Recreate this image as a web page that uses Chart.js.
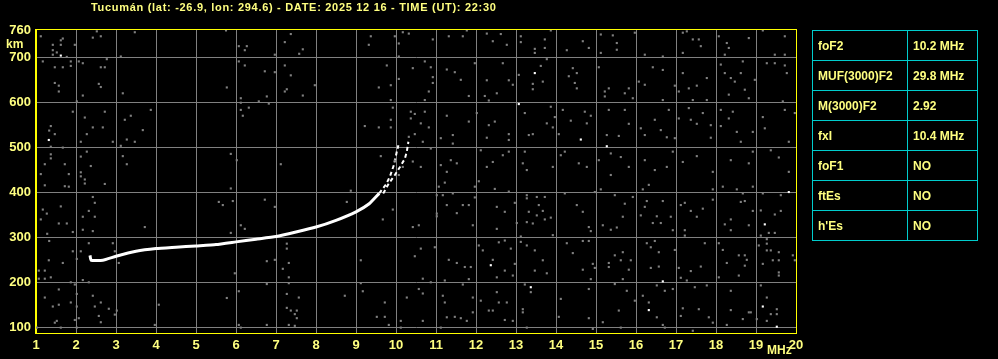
<!DOCTYPE html>
<html>
<head>
<meta charset="utf-8">
<script src="https://cdn.jsdelivr.net/npm/chart.js@4.4.1/dist/chart.umd.min.js"></script>
<style>
  body { margin: 0; background: #000; width: 998px; height: 359px; overflow: hidden; position: relative;
         font-family: "Liberation Sans", Arial, sans-serif; }
  #chart { position: absolute; left: 0; top: 0; }
  .lbl { position: absolute; color: #ffff80; font-weight: bold; white-space: nowrap; }
  #title { left: 91px; top: 1px; font-size: 11px; letter-spacing: 0.7px; }
  #km { left: 6px; top: 37px; font-size: 12px; }
  #mhz { left: 767px; top: 343px; font-size: 12px; }
  #params { position: absolute; left: 812px; top: 30px; border-collapse: collapse; }
  #params td { border: 1px solid #00cccc; height: 29px; padding: 0 0 0 5px; color: #ffff80;
               font-size: 12px; font-weight: bold; }
  #params td:first-child { width: 89px; }
  #params td:last-child { width: 64px; }
</style>
</head>
<body>
<canvas id="chart" width="998" height="359"></canvas>
<div class="lbl" id="title">Tucumán (lat: -26.9, lon: 294.6) - DATE: 2025 12 16 - TIME (UT): 22:30</div>
<div class="lbl" id="km">km</div>
<div class="lbl" id="mhz">MHz</div>
<table id="params"></table>
<script>
// axis ticks
const freqTicks = [1, 2, 3, 4, 5, 6, 7, 8, 9, 10, 11, 12, 13, 14, 15, 16, 17, 18, 19, 20];
const heightTicks = [100, 200, 300, 400, 500, 600, 700, 760];

// scaled parameters table
const paramNames = ['foF2', 'MUF(3000)F2', 'M(3000)F2', 'fxI', 'foF1', 'ftEs', "h'Es"];
const paramValues = ['10.2 MHz', '29.8 MHz', '2.92', '10.4 MHz', 'NO', 'NO', 'NO'];

// F2 trace (MHz, km)
const traceMain = [[2.35, 260], [2.38, 249], [2.67, 249], [3.0, 258], [3.5, 269], [4.0, 275], [4.5, 278],
  [5.0, 281], [5.5, 284], [6.0, 290], [6.5, 296], [7.0, 302], [7.5, 312], [8.0, 323], [8.5, 338],
  [9.0, 357], [9.33, 375], [9.58, 398]];
const traceO = [[9.58, 398], [9.75, 418], [9.85, 436], [9.95, 462], [10.02, 491], [10.06, 505]];
const traceX = [[9.68, 398], [9.82, 420], [9.98, 440], [10.1, 457], [10.22, 475], [10.27, 491], [10.31, 513]];

// bright isolated echoes
const whiteDots = [[1.32, 517], [1.62, 705], [13.47, 666], [13.07, 597], [14.62, 518], [15.27, 503],
  [12.37, 238], [13.37, 189], [16.67, 202], [16.32, 138], [19.22, 329], [19.82, 401], [19.17, 146], [19.52, 101]];

// background noise echoes
const noiseDots = [
  [1.12, 748], [1.42, 729], [1.42, 717], [1.42, 707], [1.52, 712], [1.62, 739], [1.62, 729], [1.67, 743],
  [1.77, 702], [1.87, 692], [1.87, 682], [1.97, 729], [2.07, 692], [2.17, 688], [1.47, 679], [1.67, 679],
  [1.17, 692], [2.62, 679], [2.72, 679], [2.77, 697], [2.57, 642], [2.62, 635], [1.47, 644], [1.57, 638],
  [1.57, 625], [2.17, 616], [3.17, 621], [2.52, 759], [2.42, 745], [2.62, 748], [3.47, 757], [3.12, 703],
  [2.02, 603], [1.92, 580], [2.22, 567], [2.72, 580], [3.37, 571], [3.22, 562], [3.87, 584], [2.42, 545],
  [2.67, 545], [3.67, 539], [1.37, 548], [1.33, 538], [1.47, 530], [1.37, 502], [2.27, 530], [2.12, 513],
  [2.92, 513], [3.27, 518], [3.47, 513], [3.12, 504], [1.67, 500], [1.37, 485], [1.37, 476], [1.22, 463],
  [1.12, 441], [1.72, 463], [1.82, 441], [2.12, 480], [2.27, 491], [2.37, 459], [2.12, 445], [2.12, 436],
  [2.22, 429], [3.17, 481], [3.27, 463], [5.75, 761], [6.07, 726], [6.27, 726], [6.22, 717], [6.97, 707],
  [7.22, 735], [7.37, 753], [7.67, 719], [7.58, 709], [6.07, 692], [6.22, 683], [6.72, 670], [6.97, 668],
  [7.22, 683], [7.37, 661], [7.97, 639], [7.27, 630], [7.22, 625], [6.77, 614], [7.67, 616], [5.77, 634],
  [6.12, 610], [6.12, 600], [6.12, 584], [6.32, 589], [6.57, 603], [6.82, 598], [6.17, 571], [5.87, 486],
  [6.02, 472], [7.12, 463], [9.37, 748], [9.32, 729], [9.97, 748], [10.17, 757], [10.32, 754], [10.07, 732],
  [10.07, 703], [9.77, 683], [10.42, 677], [10.07, 653], [9.87, 639], [9.57, 634], [9.87, 606], [9.92, 589],
  [10.37, 580], [10.37, 565], [10.47, 575], [9.87, 562], [9.87, 545], [9.22, 548], [9.57, 545], [10.32, 524],
  [10.47, 530], [9.62, 481], [9.97, 471], [10.17, 457], [10.42, 469], [10.07, 439],
  [10.92, 741], [11.32, 748], [11.67, 748], [11.77, 761], [12.27, 754], [12.42, 737], [12.62, 753], [12.77, 729],
  [13.12, 748], [13.12, 735], [13.47, 720], [13.47, 711], [13.72, 741], [13.72, 722], [13.87, 761], [14.27, 717],
  [14.67, 737], [14.82, 722], [15.12, 752], [15.12, 711], [15.42, 750], [15.52, 733], [15.52, 718], [15.97, 756],
  [16.22, 707], [16.67, 703], [17.17, 756], [17.27, 759], [17.42, 741], [17.57, 741], [17.62, 726], [17.17, 711],
  [18.07, 748], [18.27, 733], [18.32, 722], [18.22, 707], [18.82, 744], [19.17, 761], [19.72, 748], [19.47, 707],
  [19.72, 707], [10.72, 692], [10.87, 679], [10.92, 657], [10.92, 644], [10.82, 625], [10.72, 606], [11.27, 674],
  [11.47, 668], [11.62, 651], [11.82, 615], [11.97, 688], [12.27, 650], [12.22, 615], [12.32, 605], [12.52, 621],
  [12.67, 688], [12.82, 650], [12.92, 640], [13.07, 662], [13.42, 642], [13.42, 630], [13.67, 647], [13.62, 682],
  [13.77, 697], [14.32, 659], [14.42, 677], [14.52, 666], [14.47, 644], [14.52, 632], [15.07, 679], [15.22, 625],
  [15.32, 632], [15.22, 614], [15.72, 621], [15.82, 632], [15.92, 610], [16.07, 647], [16.22, 640], [16.42, 679],
  [16.67, 673], [16.67, 606], [16.97, 638], [17.07, 625], [17.17, 666], [17.32, 632], [17.42, 606], [17.52, 638],
  [17.77, 655], [17.77, 606], [18.12, 685], [18.22, 666], [18.32, 618], [18.37, 655], [18.47, 647], [18.62, 666],
  [18.67, 692], [18.72, 629], [18.82, 610], [18.97, 651], [19.27, 688], [19.47, 688], [19.72, 683], [19.77, 666],
  [19.67, 603], [10.72, 580], [10.62, 554], [10.82, 545], [10.67, 513], [11.12, 521], [11.27, 571], [11.42, 528],
  [11.82, 558], [12.02, 577], [12.27, 522], [12.32, 550], [12.47, 558], [12.82, 530], [12.82, 517], [13.22, 577],
  [13.32, 528], [13.42, 530], [13.77, 554], [13.87, 591], [13.92, 545], [13.97, 568], [14.07, 530], [14.17, 584],
  [14.37, 560], [14.72, 580], [14.77, 554], [14.87, 571], [15.27, 528], [15.32, 584], [15.57, 526], [15.72, 584],
  [15.82, 553], [16.12, 543], [16.22, 528], [16.47, 562], [16.62, 539], [16.77, 523], [16.82, 584], [16.97, 521],
  [17.07, 565], [17.32, 588], [17.37, 562], [17.52, 553], [17.67, 577], [17.87, 550], [17.87, 522], [18.12, 584],
  [18.12, 548], [18.32, 565], [18.42, 580], [18.52, 535], [18.62, 513], [18.92, 535], [19.17, 568], [19.22, 543],
  [19.72, 584], [19.82, 513], [19.97, 577], [10.62, 457], [10.87, 498], [11.12, 461], [11.42, 509], [11.37, 472],
  [11.52, 465], [11.27, 446], [12.12, 494], [12.27, 457], [12.42, 468], [12.67, 483], [12.82, 491], [13.22, 491],
  [13.17, 465], [13.27, 450], [13.92, 457], [14.12, 483], [14.22, 491], [14.57, 465], [14.77, 457], [15.07, 472],
  [15.37, 487], [15.37, 439], [15.62, 479], [15.82, 457], [16.22, 472], [16.47, 450], [16.77, 457], [16.92, 491],
  [17.17, 468], [17.52, 481], [17.92, 446], [18.37, 472], [18.82, 465], [18.92, 491], [19.37, 494], [19.57, 478],
  [19.82, 446],
  [1.22, 416], [1.72, 414], [1.82, 413], [2.22, 420], [2.72, 419], [2.42, 390], [2.47, 377], [1.62, 369],
  [1.17, 362], [1.27, 353], [1.12, 340], [1.57, 331], [1.77, 331], [1.92, 312], [2.17, 346], [2.32, 359],
  [2.47, 346], [2.42, 314], [2.17, 317], [1.28, 308], [1.33, 292], [2.32, 287], [2.92, 287], [1.92, 269],
  [2.12, 269], [2.97, 269], [1.32, 249], [1.67, 243], [2.02, 252], [3.07, 243], [1.07, 226], [1.22, 226],
  [1.07, 208], [1.22, 208], [1.37, 211], [1.87, 200], [1.97, 195], [2.17, 205], [2.32, 200], [1.57, 184],
  [2.02, 174], [2.42, 170], [1.22, 166], [1.57, 150], [1.42, 146], [1.87, 155], [2.02, 146], [2.47, 146],
  [2.62, 155], [2.82, 141], [3.02, 137], [2.97, 128], [2.57, 125], [2.62, 111], [2.07, 120], [1.97, 116],
  [1.52, 114], [1.47, 110], [1.62, 99], [2.02, 99], [1.02, 99], [3.97, 105], [4.07, 150], [3.72, 323],
  [5.57, 379], [5.67, 372], [5.87, 409], [5.92, 381], [6.12, 327], [6.22, 319], [5.87, 310], [5.97, 220],
  [5.77, 165], [6.07, 180], [6.07, 105], [6.12, 99], [6.72, 384], [6.77, 247], [6.97, 250], [6.77, 196],
  [7.27, 286], [7.27, 275], [7.32, 243], [7.17, 230], [7.32, 211], [7.32, 198], [7.27, 174], [7.57, 166],
  [7.27, 143], [7.37, 137], [7.52, 137], [7.47, 129], [7.52, 120], [7.47, 103], [7.32, 105], [6.77, 105],
  [6.97, 368], [8.87, 404], [8.77, 379], [9.67, 340], [9.92, 362], [9.12, 249], [9.12, 198], [9.17, 180],
  [8.72, 170], [9.72, 155], [9.52, 123], [9.72, 123], [9.82, 105], [10.12, 114], [10.12, 99], [10.27, 166],
  [10.42, 323], [10.47, 258],
  [11.07, 413], [11.22, 422], [11.97, 413], [12.47, 408], [12.82, 402], [12.07, 425], [11.02, 394], [11.17, 394],
  [11.42, 398], [11.97, 389], [11.27, 372], [11.52, 354], [11.67, 372], [11.82, 372], [11.02, 353], [11.02, 347],
  [11.92, 327], [12.52, 368], [12.72, 357], [12.97, 377], [13.02, 332], [13.27, 394], [13.27, 387], [13.52, 390],
  [13.72, 390], [13.57, 372], [13.67, 359], [13.32, 357], [13.52, 349], [13.72, 340], [13.27, 334], [13.42, 331],
  [13.87, 344], [13.92, 305], [13.12, 302], [12.52, 319], [10.57, 327], [14.97, 401], [15.12, 407], [14.67, 357],
  [14.52, 372], [14.22, 398], [15.47, 394], [15.72, 375], [15.92, 390], [15.67, 346], [15.52, 322], [15.37, 317],
  [15.17, 327], [14.82, 323], [14.87, 314], [16.17, 407], [16.32, 417], [16.27, 381], [16.22, 368], [16.12, 349],
  [16.52, 347], [16.67, 381], [16.87, 346], [16.92, 316], [16.62, 332], [16.42, 332], [17.22, 316], [17.22, 304],
  [17.12, 372], [17.22, 377], [17.37, 359], [17.52, 346], [17.67, 364], [17.92, 384], [17.92, 407], [18.17, 413],
  [18.52, 407], [18.67, 398], [18.62, 379], [18.72, 381], [18.92, 359], [19.12, 360], [19.47, 351], [19.62, 359],
  [19.32, 310], [19.47, 310], [19.12, 304], [19.17, 398], [19.62, 394], [18.92, 413], [18.22, 329], [18.37, 340],
  [18.37, 316], [18.82, 327], [19.27, 296], [19.27, 286], [19.07, 282], [19.27, 271], [19.37, 271], [19.57, 267],
  [19.57, 249], [19.57, 222], [19.57, 215], [19.42, 249], [19.92, 260], [19.97, 249], [19.17, 241], [19.12, 193],
  [19.27, 166], [19.52, 140], [19.52, 129], [19.37, 129], [19.27, 114], [19.02, 118], [18.87, 133],
  [10.62, 275], [10.67, 208], [10.87, 200], [10.97, 278], [10.57, 185], [10.67, 175], [11.32, 250], [11.52, 243],
  [11.72, 234], [11.87, 234], [11.82, 207], [11.67, 195], [11.22, 204], [11.22, 155], [11.17, 170], [11.27, 122],
  [11.47, 123], [11.62, 120], [11.77, 114], [11.92, 133], [11.92, 166], [11.12, 99], [10.67, 114], [12.42, 250],
  [12.17, 271], [12.07, 282], [12.52, 211], [12.72, 226], [12.92, 215], [12.97, 241], [12.87, 275], [12.72, 293],
  [12.57, 289], [12.12, 159], [12.52, 178], [12.57, 155], [12.77, 155], [12.32, 137], [12.42, 137], [12.72, 116],
  [12.92, 114], [13.22, 195], [13.37, 178], [13.17, 140], [13.17, 133], [13.27, 99], [13.12, 290], [13.27, 282],
  [13.47, 271], [13.67, 249], [13.47, 226], [13.77, 220], [14.12, 163], [14.07, 123], [14.27, 287], [14.42, 265],
  [14.67, 292], [14.82, 292], [14.92, 241], [14.97, 232], [14.67, 228], [14.87, 207], [14.82, 185], [14.92, 96],
  [14.82, 120], [15.17, 111], [15.32, 243], [15.47, 260], [15.67, 267], [15.62, 249], [15.87, 249], [15.32, 234],
  [15.82, 228], [15.67, 207], [15.47, 196], [15.77, 181], [15.97, 159], [16.17, 170], [16.32, 155], [15.57, 137],
  [15.62, 99], [16.27, 287], [16.37, 278], [16.47, 292], [16.57, 267], [16.57, 235], [16.37, 232], [16.72, 181],
  [16.92, 185], [16.52, 193], [16.52, 122], [16.67, 105], [16.72, 99], [16.97, 272], [17.07, 232], [17.12, 210],
  [17.27, 204], [17.37, 225], [17.62, 235], [17.72, 287], [17.47, 189], [17.77, 193], [17.57, 140], [17.17, 142],
  [17.12, 125], [17.42, 92], [17.82, 122], [17.92, 110], [18.07, 287], [18.17, 272], [18.27, 243], [18.57, 260],
  [18.72, 260], [18.77, 250], [18.72, 237], [18.57, 215], [18.07, 211], [18.37, 181], [18.67, 118], [18.82, 133],
  [18.37, 138], [18.27, 105]
];

const toXY = p => ({ x: p[0], y: p[1] });

// parameters table
const table = document.getElementById('params');
paramNames.forEach((name, i) => {
  const tr = document.createElement('tr');
  tr.innerHTML = '<td>' + name + '</td><td>' + paramValues[i] + '</td>';
  table.appendChild(tr);
});

// yellow frame around the plot area
const frame = {
  id: 'frame',
  afterDraw(chart) {
    const a = chart.chartArea;
    const c = chart.ctx;
    c.save();
    c.strokeStyle = '#ffff00';
    c.lineWidth = 1;
    c.strokeRect(Math.round(a.left) - 0.5, Math.round(a.top) - 0.5, a.right - a.left + 1, a.bottom - a.top + 1);
    c.restore();
  }
};

const tickFont = { family: 'Liberation Sans', size: 13, weight: 'bold' };

new Chart(document.getElementById('chart'), {
  type: 'scatter',
  data: {
    datasets: [
      {
        label: 'noise',
        data: noiseDots.map(toXY),
        pointStyle: 'rect',
        pointRadius: 1.5,
        pointBackgroundColor: '#808080',
        pointBorderWidth: 0
      },
      {
        label: 'white',
        data: whiteDots.map(toXY),
        pointStyle: 'rect',
        pointRadius: 1.5,
        pointBackgroundColor: '#ffffff',
        pointBorderWidth: 0
      },
      {
        type: 'line',
        label: 'F2',
        data: traceMain.map(toXY),
        borderColor: '#ffffff',
        borderWidth: 3,
        pointRadius: 0,
        tension: 0.15
      },
      {
        type: 'line',
        label: 'F2 o',
        data: traceO.map(toXY),
        borderColor: '#ffffff',
        borderWidth: 2,
        borderDash: [4, 3],
        pointRadius: 0
      },
      {
        type: 'line',
        label: 'F2 x',
        data: traceX.map(toXY),
        borderColor: '#ffffff',
        borderWidth: 2,
        borderDash: [4, 3],
        pointRadius: 0
      }
    ]
  },
  options: {
    responsive: false,
    animation: false,
    layout: { padding: { left: 0, top: 30, right: 202, bottom: 0 } },
    plugins: { legend: { display: false }, tooltip: { enabled: false } },
    scales: {
      x: {
        type: 'linear',
        min: 1,
        max: 20,
        afterFit(s) { s.height = 26; },
        afterBuildTicks(s) { s.ticks = freqTicks.map(v => ({ value: v })); },
        grid: { color: '#808080', drawTicks: false },
        border: { color: '#ffff00' },
        ticks: { color: '#ffff80', font: tickFont, padding: 5, maxRotation: 0, autoSkip: false }
      },
      y: {
        type: 'linear',
        min: 87,
        max: 762,
        afterFit(s) { s.width = 36; },
        afterBuildTicks(s) { s.ticks = heightTicks.map(v => ({ value: v })); },
        grid: {
          color: c => (c.tick && c.tick.value === 760 ? 'rgba(0,0,0,0)' : '#808080'),
          drawTicks: false
        },
        border: { color: '#ffff00' },
        ticks: { color: '#ffff80', font: tickFont, padding: 5, autoSkip: false }
      }
    }
  },
  plugins: [frame]
});
</script>
</body>
</html>
